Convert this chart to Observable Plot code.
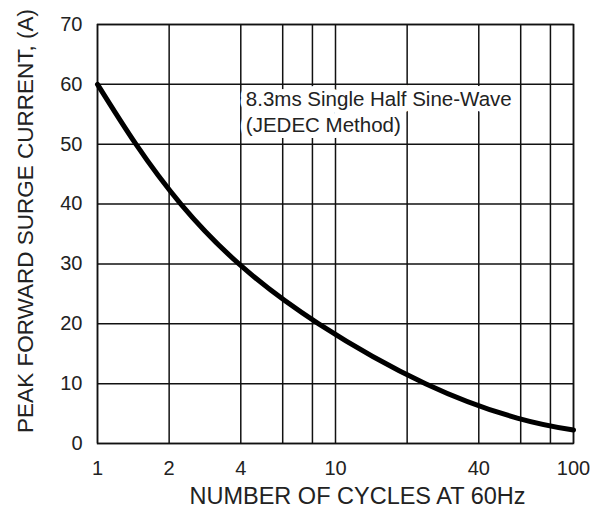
<!DOCTYPE html>
<html>
<head>
<meta charset="utf-8">
<script src="https://cdn.jsdelivr.net/npm/d3@7"></script>
<script src="https://cdn.jsdelivr.net/npm/@observablehq/plot@0.6"></script>
<style>
  html, body { margin: 0; padding: 0; background: #fff; }
  #chart { width: 611px; height: 510px; }
</style>
</head>
<body>
<div id="chart"></div>
<script>
// Curve: peak forward surge current vs number of cycles at 60 Hz
const cycles  = [1, 1.45, 2.24, 3.93, 8.5, 23.9, 58, 100];
const current = [60, 50, 40, 30, 20, 10, 4.25, 2.24];

const xGridLines = [1, 2, 4, 6, 8, 10, 20, 40, 60, 80, 100];
const xTickLabels = [1, 2, 4, 6, 10, 40, 100];
const yTicks = [0, 10, 20, 30, 40, 50, 60, 70];

const xTitle = "NUMBER OF CYCLES AT 60Hz";
const yTitle = "PEAK FORWARD SURGE CURRENT, (A)";
const noteText = "8.3ms Single Half Sine-Wave\n(JEDEC Method)";

const data = cycles.map((c, i) => ({cycles: c, current: current[i]}));

const ink = "#111";

const chart = Plot.plot({
  width: 611,
  height: 510,
  marginTop: 24,
  marginLeft: 97,
  marginRight: 38,
  marginBottom: 67,
  style: {fontFamily: "'Liberation Sans', Arial, sans-serif", background: "#fff", color: "#222"},
  x: {type: "log", domain: [1, 100]},
  y: {domain: [0, 70]},
  marks: [
    Plot.ruleX(xGridLines, {stroke: ink, strokeWidth: 1.5}),
    Plot.ruleY(yTicks, {stroke: ink, strokeWidth: 1.5}),
    Plot.text([noteText], {
      x: 4.2, y: 59.6, text: d => d,
      textAnchor: "start", lineAnchor: "top", lineHeight: 1.3,
      fontSize: 20.5, fill: "#222",
      stroke: "white", strokeWidth: 12, paintOrder: "stroke"
    }),
    Plot.frame({stroke: ink, strokeWidth: 1.5}),
    Plot.line(data, {x: "cycles", y: "current", curve: "natural", stroke: "black", strokeWidth: 5}),
    Plot.axisX({ticks: xTickLabels, tickSize: 0, tickPadding: 17, fontSize: 20, label: null, tickFormat: d => String(d)}),
    Plot.axisY({ticks: yTicks, tickSize: 0, tickPadding: 15, fontSize: 20, label: null}),
    Plot.text([xTitle], {text: d => d, frameAnchor: "bottom", lineAnchor: "middle", textAnchor: "middle", dy: 53, dx: 22, fontSize: 23.5, fill: "#222"}),
    Plot.text([yTitle], {text: d => d, frameAnchor: "left", textAnchor: "middle", lineAnchor: "middle", rotate: -90, dx: -72, dy: -13, fontSize: 22.5, fill: "#222"})
  ]
});

document.getElementById("chart").appendChild(chart);
</script>
</body>
</html>
